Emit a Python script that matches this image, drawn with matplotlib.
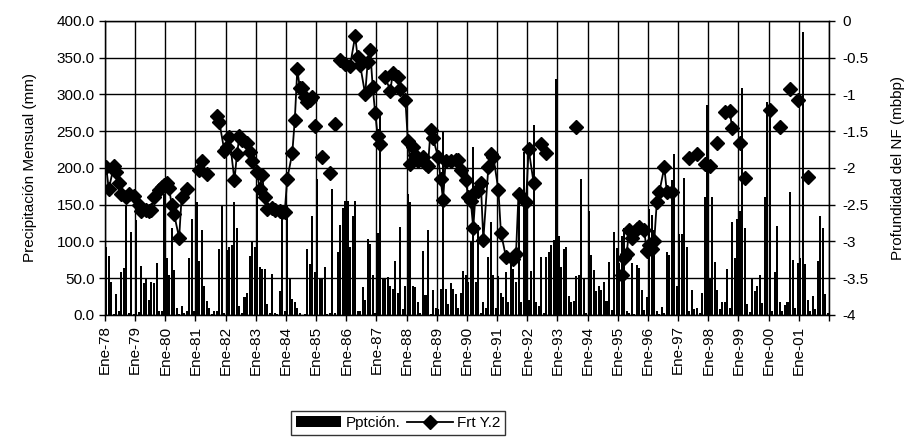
import matplotlib.pyplot as plt
from matplotlib.ticker import FuncFormatter, MultipleLocator
import numpy as np

plt.rcParams['font.family'] = ['Liberation Sans', 'DejaVu Sans']

# etiquetas del eje x (una por año, en enero)
etiquetas = ['Ene-78', 'Ene-79', 'Ene-80', 'Ene-81', 'Ene-82', 'Ene-83',
             'Ene-84', 'Ene-85', 'Ene-86', 'Ene-87', 'Ene-88', 'Ene-89',
             'Ene-90', 'Ene-91', 'Ene-92', 'Ene-93', 'Ene-94', 'Ene-95',
             'Ene-96', 'Ene-97', 'Ene-98', 'Ene-99', 'Ene-00', 'Ene-01']

# precipitacion mensual (mm), ene..dic de cada año
p1978 = [92, 80, 45, 2, 28, 5, 58, 64, 150, 3, 113, 2]
p1979 = [129, 4, 66, 43, 49, 20, 45, 43, 70, 5, 6, 165]
p1980 = [78, 54, 118, 61, 9, 2, 12, 3, 5, 77, 131, 5]
p1981 = [153, 73, 116, 39, 19, 9, 2, 5, 6, 90, 148, 3]
p1982 = [88, 92, 95, 153, 118, 12, 3, 25, 30, 80, 100, 92]
p1983 = [170, 65, 62, 63, 15, 3, 56, 3, 2, 32, 140, 5]
p1984 = [150, 50, 22, 17, 10, 3, 0, 2, 90, 69, 134, 58]
p1985 = [185, 49, 49, 65, 1, 3, 171, 3, 85, 123, 145, 155]
p1986 = [155, 93, 134, 155, 5, 5, 38, 20, 103, 96, 55, 3]
p1987 = [112, 272, 49, 49, 51, 40, 35, 74, 30, 120, 8, 40]
p1988 = [165, 153, 40, 38, 17, 3, 87, 27, 115, 1, 34, 10]
p1989 = [8, 35, 250, 35, 15, 44, 35, 28, 10, 30, 60, 55]
p1990 = [45, 101, 229, 45, 123, 3, 17, 10, 79, 126, 55, 10]
p1991 = [53, 30, 25, 58, 17, 69, 62, 45, 153, 17, 221, 144]
p1992 = [20, 60, 259, 17, 12, 79, 3, 79, 85, 95, 102, 321]
p1993 = [108, 65, 90, 92, 26, 17, 19, 53, 55, 185, 49, 3]
p1994 = [142, 81, 61, 32, 40, 34, 45, 19, 72, 7, 113, 91]
p1995 = [70, 107, 118, 5, 3, 70, 2, 68, 64, 34, 7, 25]
p1996 = [144, 136, 116, 5, 2, 11, 3, 85, 82, 184, 219, 40]
p1997 = [110, 110, 186, 93, 5, 34, 8, 10, 3, 30, 160, 285]
p1998 = [50, 161, 72, 34, 8, 17, 17, 63, 10, 126, 77, 131]
p1999 = [141, 309, 118, 15, 4, 49, 32, 39, 55, 16, 161, 290]
p2000 = [271, 5, 58, 121, 18, 5, 14, 17, 167, 75, 10, 70]
p2001 = [77, 385, 69, 20, 5, 26, 8, 73, 135, 118, 29, 3]

# profundidad del nivel freatico (m), mes desde ene-78; nan = corte
nan = np.nan
nf_mes = [0, 1, 3, 4, 5, 6, 8, 9, 11, 13, 14, 16, 17, 18, 19, 21, 22, 23, 24,
          25, 26, 27, 29, 30, 32, nan,
          37, 38, 40, nan,
          44, 45, 47, 48, 49, 51, 52, 53, 54, 56, 57, 58, 60, 61, 62, 63, 64,
          66, 67, 69, 70, 71, 72, 74, 75, 76, 77, 78, 79, 80, 81, 82, nan,
          83, nan, 86, nan, 89, nan, 91, nan,
          93, 95, 97, 99, 100, 101, 103, 104, 105, 106, 107, 108, 109, nan,
          111, 113, 114, 116, 117, 119, 120, 121, 122, 123, 124, 126, 127,
          128, 129, 130, 132, 133, 134, 135, 137, 139, 140, 141, 143, 144,
          145, 146, 147, 148, 149, 150, 152, 153, 154, 156, 157, 159, 162,
          163, 164, 167, 168, 170, nan,
          173, 175, nan, 187, nan,
          205, 206, 207, 208, 209, 211, 212, 214, 215, 216, 217, 218, 219,
          220, 222, 223, 225, nan,
          232, 235, nan, 238, 240, nan, 243, nan, 246, 248, 249, nan,
          252, nan, 254, nan, 264, nan, 268, nan, 272, nan, 275, nan, 279]
nf_prof = [-1.99, -2.29, -1.98, -2.06, -2.21, -2.35, -2.40, -2.35, -2.38,
           -2.50, -2.59, -2.57, -2.59, -2.57, -2.39, -2.30, -2.26, -2.23,
           -2.21, -2.27, -2.50, -2.63, -2.95, -2.39, -2.29, nan,
           -2.03, -1.90, -2.08, nan,
           -1.30, -1.38, -1.77, -1.72, -1.58, -2.17, -1.81, -1.57, -1.62,
           -1.66, -1.79, -1.91, -2.05, -2.29, -2.10, -2.40, -2.56, -2.54,
           -2.57, -2.59, -2.60, -2.60, -2.15, -1.80, -1.35, -0.66, -0.91,
           -0.92, -1.04, -1.10, -1.08, -1.04, nan,
           -1.43, nan, -1.85, nan, -2.07, nan, -1.40, nan,
           -0.53, -0.59, -0.61, -0.21, -0.49, -0.60, -1.00, -0.56, -0.40,
           -0.90, -1.26, -1.57, -1.67, nan,
           -0.77, -0.95, -0.71, -0.76, -0.93, -1.07, -1.64, -1.95, -1.72,
           -1.83, -1.90, -1.85, -1.95, -1.97, -1.49, -1.60, -1.85, -2.15,
           -2.44, -1.90, -1.90, -1.89, -1.89, -2.03, -2.16, -2.40, -2.45,
           -2.82, -2.31, -2.31, -2.20, -2.98, -1.99, -1.81, -1.85, -2.30,
           -2.88, -3.21, -3.24, -3.17, -2.35, -2.47, -1.74, -2.20, nan,
           -1.67, -1.80, nan, -1.44, nan,
           -3.45, -3.22, -3.17, -2.85, -2.95, -2.83, -2.81, -2.85, -3.13,
           -3.05, -3.10, -2.99, -2.47, -2.33, -1.99, -2.33, -2.33, nan,
           -1.87, -1.81, nan, -1.95, -1.97, nan, -1.66, nan, -1.24, -1.23,
           -1.46, nan, -1.66, nan, -2.14, nan, -1.21, nan, -1.45, nan,
           -0.93, nan, -1.07, nan, -2.12]

pp = np.concatenate([p1978, p1979, p1980, p1981, p1982, p1983, p1984, p1985,
                     p1986, p1987, p1988, p1989, p1990, p1991, p1992, p1993,
                     p1994, p1995, p1996, p1997, p1998, p1999, p2000, p2001])
meses = np.arange(len(pp))

fig = plt.figure(figsize=(9.05, 4.43), dpi=100)
ax = fig.add_axes([0.116, 0.289, 0.800, 0.664])

ax.set_axisbelow(True)
ax.grid(True, color='black', linewidth=1.0)
barras = ax.bar(meses + 0.5, pp, width=0.8, color='black', label='Pptción.',
                antialiased=False)

ax.set_xlim(0, len(pp))
ax.set_ylim(0, 400)
ax.yaxis.set_major_locator(MultipleLocator(50))
ax.yaxis.set_major_formatter(FuncFormatter(lambda v, p: '%.1f' % v))
ax.set_xticks(np.arange(0, len(pp) + 1, 12))
ax.set_xticklabels(etiquetas + [''], rotation=90)
ax.tick_params(axis='both', direction='out', length=4, width=1,
               labelsize=11, colors='black')
ax.set_ylabel('Precipitación Mensual (mm)', fontsize=11, labelpad=14)
for s in ax.spines.values():
    s.set_linewidth(1.0)

ax2 = ax.twinx()
linea, = ax2.plot(np.array(nf_mes) + 0.5, nf_prof, color='black', lw=1.3,
                  marker='D', markersize=7, label='Frt Y.2')
ax2.set_ylim(-4, 0)
ax2.yaxis.set_major_locator(MultipleLocator(0.5))
ax2.yaxis.set_major_formatter(FuncFormatter(lambda v, p: '%g' % v))
ax2.tick_params(axis='y', direction='out', length=4, width=1, labelsize=11,
                pad=6)
ax2.set_ylabel('Profundidad del NF (mbbp)', fontsize=11, labelpad=16)

leg = fig.legend(handles=[barras, linea], loc='center', ncol=2,
                 bbox_to_anchor=(0.44, 0.045), fontsize=11, frameon=True,
                 fancybox=False, edgecolor='black', handlelength=3.0,
                 columnspacing=0.4, handletextpad=0.3, borderpad=0.3)
leg.get_frame().set_linewidth(1.0)

plt.savefig('out.png', dpi=100)
